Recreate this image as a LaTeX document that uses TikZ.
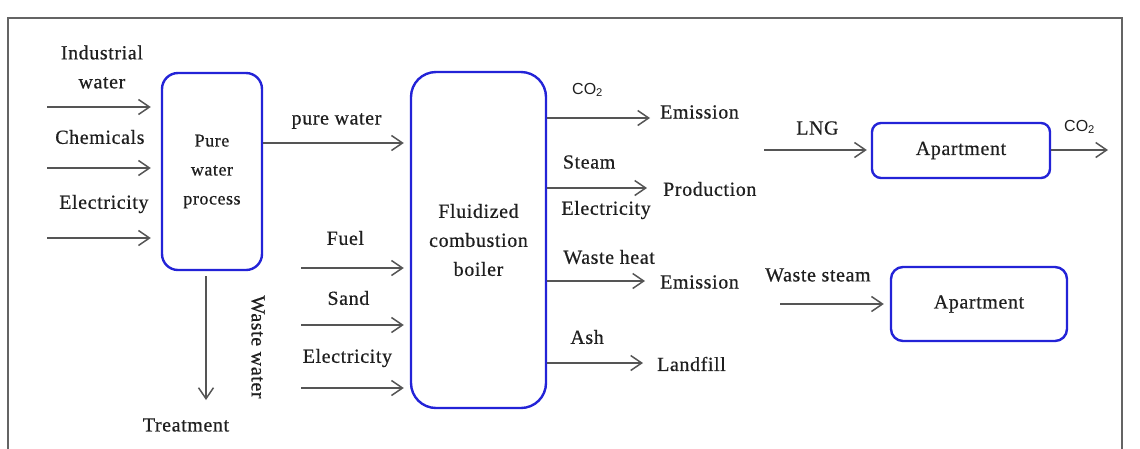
\documentclass[tikz,border=0pt]{standalone}
\usepackage{fontspec}
\setmainfont{Liberation Serif}[LetterSpace=3,FakeBold=0.6]
\newfontfamily\cofont{Liberation Sans}
\usetikzlibrary{positioning,arrows.meta}
\definecolor{boxblue}{RGB}{35,35,215}
\definecolor{flowgray}{RGB}{85,85,85}
\definecolor{framegray}{RGB}{100,100,100}
\tikzset{
  procbox/.style={draw=boxblue, line width=2.4pt, inner sep=0pt, align=center},
  flow/.style={draw=flowgray, line width=1.5pt,
    -{Straight Barb[length=11pt,width=15pt,line width=1.5pt]}},
  lbl/.style={font=\fontsize{20}{29}\selectfont, align=center, text=black!88, inner sep=0pt},
  co/.style={font=\cofont\fontsize{16}{18}\selectfont, text=black!88, inner sep=0pt},
}

\begin{document}
\begin{tikzpicture}[x=1pt, y=-1pt]
  \useasboundingbox (0,0) rectangle (1140,448);
  \clip (0,0) rectangle (1140,448);
  % frame, its lower edge lies below the picture
  \draw[framegray, line width=1.5pt] (8,470) -- (8,18) -- (1122,18) -- (1122,470);

  % process boxes
  \node (pwp) [procbox, lbl, font=\fontsize{18}{29}\selectfont, rounded corners=16pt,
    minimum width=100pt, minimum height=197pt] at (212,171.5) {Pure\\water\\process};
  \node (boiler) [procbox, lbl, rounded corners=25pt,
    minimum width=135pt, minimum height=336pt] at (478.5,240) {Fluidized\\combustion\\boiler};
  \node (apt1) [procbox, lbl, rounded corners=9pt,
    minimum width=178pt, minimum height=55pt] at (961,150.5) {Apartment};
  \node (apt2) [procbox, lbl, rounded corners=12pt,
    minimum width=176pt, minimum height=74pt] at (979,304) {Apartment};

  % inputs of the pure water process
  \coordinate (iwin) at (47,107);
  \coordinate (chin) at (47,168);
  \coordinate (elin) at (47,238);
  \draw[flow, shorten >=10pt] (iwin) -- (iwin -| pwp.west)
    node[lbl, midway, xshift=-2pt, yshift=40pt] {Industrial\\water};
  \draw[flow, shorten >=10pt] (chin) -- (chin -| pwp.west)
    node[lbl, midway, xshift=-4pt, yshift=31pt] {Chemicals};
  \draw[flow, shorten >=10pt] (elin) -- (elin -| pwp.west)
    node[lbl, midway, yshift=34pt] {Electricity};

  % waste water
  \node (treat) [lbl] at (186,425) {Treatment};
  \coordinate (wwtip) at (206,400);
  \draw[flow, shorten <=5pt] (pwp.south -| wwtip) -- (wwtip);
  \node (wwlbl) [lbl, rotate=-90] at (258,347) {Waste water};

  % inputs of the boiler
  \coordinate (pwy) at (0,143);
  \coordinate (fuin) at (301,268);
  \coordinate (sain) at (301,325);
  \coordinate (ebin) at (301,388);
  \draw[flow, shorten >=6pt] (pwp.east |- pwy) -- (boiler.west |- pwy)
    node[lbl, midway, yshift=22pt] {pure water};
  \draw[flow, shorten >=6pt] (fuin) -- (fuin -| boiler.west)
    node[lbl, midway, xshift=-10pt, yshift=30pt] {Fuel};
  \draw[flow, shorten >=6pt] (sain) -- (sain -| boiler.west)
    node[lbl, midway, xshift=-7pt, yshift=27pt] {Sand};
  \draw[flow, shorten >=6pt] (ebin) -- (ebin -| boiler.west)
    node[lbl, midway, xshift=-8pt, yshift=30pt] {Electricity};

  % outputs of the boiler
  \node (emis1) [lbl, anchor=west] at (660,112) {Emission};
  \node (prod)  [lbl, anchor=west] at (663,189) {Production};
  \node (emis2) [lbl, anchor=west] at (660,282) {Emission};
  \node (land)  [lbl, anchor=west] at (657,364) {Landfill};
  \coordinate (co2tip) at ([xshift=-10pt,yshift=-6pt]emis1.west);
  \coordinate (sttip) at ([xshift=-16pt,yshift=1pt]prod.west);
  \coordinate (whtip) at ([xshift=-15pt,yshift=1pt]emis2.west);
  \coordinate (ashtip) at ([xshift=-14pt,yshift=1pt]land.west);
  \draw[flow] (boiler.east |- co2tip) -- (co2tip)
    node[co, midway, xshift=-11pt, yshift=28pt] {CO\textsubscript{2}};
  \draw[flow] (boiler.east |- sttip) -- (sttip)
    node[lbl, midway, xshift=-8pt, yshift=26pt] {Steam}
    node[lbl, midway, xshift=9pt, yshift=-22pt] {Electricity};
  \draw[flow] (boiler.east |- whtip) -- (whtip)
    node[lbl, midway, xshift=13pt, yshift=24pt] {Waste heat};
  \draw[flow] (boiler.east |- ashtip) -- (ashtip)
    node[lbl, midway, xshift=-8pt, yshift=26pt] {Ash};

  % apartments
  \coordinate (lngin) at (764,150);
  \coordinate (co2out) at (1108,150);
  \coordinate (wsin) at (780,304);
  \draw[flow, shorten >=4pt] (lngin) -- (lngin -| apt1.west)
    node[lbl, midway, yshift=22pt] {LNG};
  \draw[flow] (apt1.east |- co2out) -- (co2out)
    node[co, midway, yshift=23pt] {CO\textsubscript{2}};
  \draw[flow, shorten >=6pt] (wsin) -- (wsin -| apt2.west)
    node[lbl, midway, xshift=-17pt, yshift=29pt] {Waste steam};
\end{tikzpicture}
\end{document}
